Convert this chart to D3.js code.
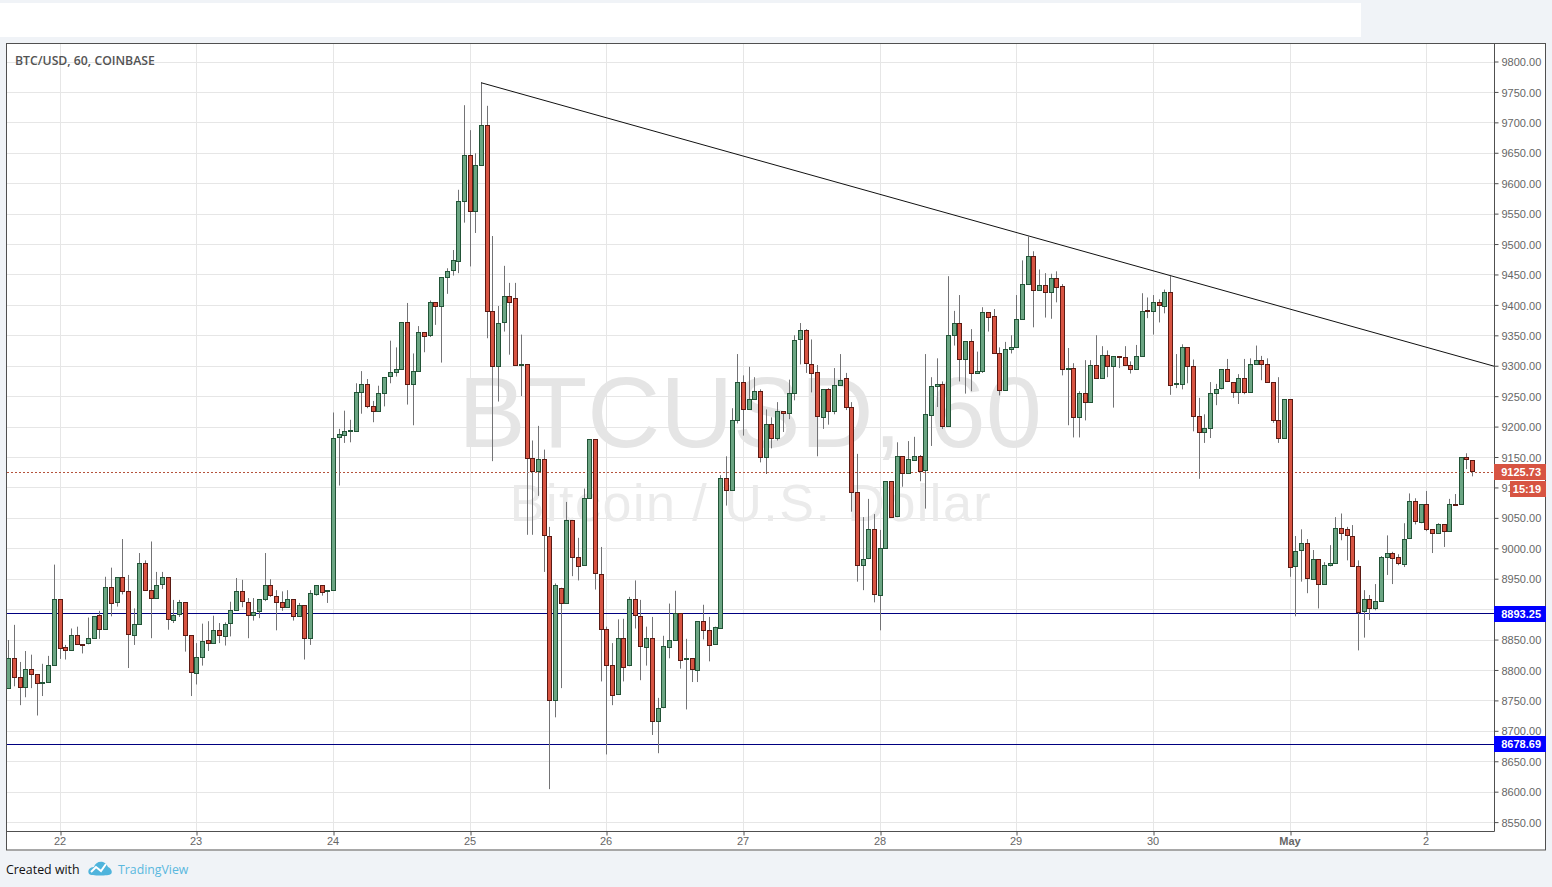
<!DOCTYPE html>
<html><head><meta charset="utf-8">
<script src="https://cdn.jsdelivr.net/npm/d3@7/dist/d3.min.js"></script>
<style>html,body{margin:0;padding:0;background:#f0f3f7;overflow:hidden}svg{display:block}</style>
</head><body><div id="c"></div>
<script>
const opens=[8770,8820,8789,8773,8802,8794,8780,8781,8809,8917,
8837,8832,8857,8843,8843,8852,8891,8868,8937,8911,
8952,8929,8858,8876,8976,8932,8919,8940,8952,8883,
8891,8911,8857,8796,8822,8850,8845,8866,8857,8876,
8898,8929,8912,8891,8896,8916,8939,8922,8912,8904,
8917,8889,8907,8852,8926,8940,8930,8932,9182,9187,
9193,9193,9257,9270,9234,9226,9256,9282,9289,9294,
9372,9270,9292,9356,9350,9404,9398,9446,9456,9473,
9571,9647,9555,9630,9696,9390,9300,9371,9414,9412,
9302,9303,9149,9127,9146,9021,8751,8935,8911,9047,
8986,8972,9082,9179,8958,8868,8809,8760,8852,8807,
8916,8889,8839,8853,8717,8738,8839,8850,8894,8817,
8819,8801,8881,8866,8842,8870,9116,9096,9211,9274,
9229,9246,9259,9151,9205,9182,9226,9223,9256,9343,
9358,9303,9289,9216,9262,9226,9269,9280,9233,9093,
8973,8983,9031,8924,9001,9111,9052,9151,9123,9146,
9152,9128,9220,9267,9270,9201,9351,9371,9312,9341,
9289,9292,9389,9381,9321,9261,9328,9331,9377,9435,
9481,9425,9433,9422,9445,9431,9295,9297,9216,9256,
9241,9302,9280,9318,9300,9316,9315,9302,9295,9316,
9391,9390,9404,9399,9422,9269,9271,9331,9300,9218,
9192,9198,9256,9262,9294,9274,9257,9280,9257,9303,
9310,9303,9274,9211,9182,9246,8972,8996,9008,8950,
8983,8942,8973,8976,9034,9031,9021,8971,8896,8916,
8902,8914,8986,8993,8985,8975,9016,9077,9044,9073,
9032,9026,9040,9029,9073,9072,9150,9145];
const closes=[8820,8789,8773,8802,8793,8779,8781,8809,8917,8837,
8832,8857,8842,8842,8852,8888,8868,8937,8911,8952,
8929,8858,8876,8976,8932,8919,8940,8952,8883,8891,
8911,8857,8796,8822,8848,8845,8866,8857,8876,8898,
8929,8912,8891,8896,8916,8939,8922,8912,8904,8917,
8889,8907,8852,8926,8940,8929,8932,9182,9187,9193,
9194,9257,9270,9234,9226,9256,9282,9289,9294,9372,
9270,9292,9356,9350,9404,9398,9446,9456,9473,9571,
9647,9555,9630,9696,9390,9300,9371,9414,9404,9302,
9303,9149,9127,9146,9021,8751,8940,8911,9047,8986,
8972,9082,9179,8958,8868,8809,8760,8852,8804,8916,
8889,8839,8853,8717,8738,8839,8850,8894,8817,8819,
8801,8881,8866,8842,8870,9116,9096,9211,9274,9229,
9246,9259,9151,9205,9182,9226,9223,9256,9343,9358,
9303,9289,9216,9262,9226,9269,9277,9233,9093,8973,
8983,9031,8924,9001,9111,9052,9151,9123,9146,9152,
9128,9220,9267,9270,9201,9351,9371,9312,9341,9289,
9292,9389,9381,9321,9261,9328,9331,9377,9435,9481,
9425,9433,9422,9445,9431,9295,9297,9216,9256,9241,
9302,9280,9318,9300,9316,9315,9302,9295,9316,9390,
9390,9404,9399,9422,9269,9271,9331,9300,9218,9192,
9198,9256,9262,9294,9274,9257,9280,9257,9303,9310,
9303,9274,9211,9182,9246,8970,8996,9008,8950,8983,
8942,8973,8976,9034,9026,9021,8971,8896,8916,8902,
8914,8986,8993,8985,8975,9016,9077,9044,9073,9032,
9026,9040,9029,9073,9072,9150,9146,9127];
const highs=[8850,8875,8814,8832,8826,8794,8811,8824,8974,8917,
8842,8869,8872,8843,8887,8889,8898,8954,8969,8952,
9016,8957,8902,8993,8981,9012,8962,8962,8952,8916,
8916,8911,8857,8845,8877,8881,8890,8878,8879,8913,
8952,8949,8919,8919,8917,8993,8950,8932,8930,8932,
8917,8911,8907,8932,8940,8940,8932,9224,9197,9227,
9212,9272,9292,9279,9243,9268,9282,9342,9331,9372,
9404,9321,9366,9356,9408,9404,9446,9461,9491,9590,
9729,9688,9650,9766,9728,9514,9399,9465,9437,9437,
9352,9303,9178,9202,9163,9036,8943,8936,9077,9047,
9018,9099,9179,9179,9003,8872,8845,8884,8885,8921,
8948,8916,8872,8888,8755,8857,8910,8931,8894,8852,
8819,8881,8908,8888,8872,9121,9152,9231,9320,9285,
9299,9282,9262,9229,9216,9241,9226,9278,9351,9371,
9361,9344,9302,9262,9264,9297,9320,9289,9241,9156,
9052,9082,9057,9031,9111,9111,9175,9151,9177,9184,
9154,9320,9282,9313,9275,9448,9391,9417,9341,9361,
9324,9397,9389,9394,9331,9340,9351,9417,9474,9513,
9489,9459,9453,9452,9456,9435,9330,9305,9259,9310,
9310,9351,9333,9326,9316,9316,9333,9308,9335,9420,
9413,9417,9410,9426,9448,9320,9336,9331,9311,9248,
9221,9274,9271,9295,9312,9274,9287,9312,9313,9334,
9317,9313,9274,9282,9246,9246,9021,9032,9016,8998,
8983,8978,9006,9052,9058,9036,9039,8981,8932,8924,
8942,8988,9022,8995,8991,9042,9091,9083,9073,9095,
9032,9042,9040,9082,9090,9150,9157,9145];
const lows=[8770,8774,8743,8756,8771,8726,8758,8781,8809,8819,
8818,8832,8842,8828,8843,8852,8852,8868,8889,8905,
8925,8804,8842,8876,8932,8853,8919,8934,8867,8878,
8888,8831,8758,8777,8808,8832,8845,8845,8841,8856,
8898,8904,8853,8882,8886,8914,8921,8866,8898,8904,
8882,8889,8818,8842,8923,8923,8911,8932,9104,9174,
9175,9193,9222,9231,9208,9226,9234,9272,9283,9294,
9237,9203,9292,9323,9348,9368,9306,9419,9449,9453,
9536,9464,9519,9630,9346,9144,9242,9357,9319,9302,
9251,9023,9023,9087,8962,8605,8723,8771,8911,8955,
8948,8972,9082,8933,8782,8662,8743,8760,8782,8807,
8869,8784,8808,8694,8664,8738,8820,8850,8803,8736,
8781,8781,8851,8815,8842,8870,9071,9096,9206,9186,
9229,9246,9142,9123,9165,9178,9192,9213,9244,9303,
9289,9257,9152,9197,9204,9221,9269,9228,9061,8946,
8932,8983,8912,8866,9001,9052,9052,9102,9123,9146,
9111,9066,9169,9233,9197,9201,9334,9275,9255,9259,
9289,9289,9357,9321,9252,9261,9321,9331,9377,9435,
9364,9425,9380,9378,9405,9285,9203,9183,9183,9211,
9241,9279,9279,9282,9232,9297,9302,9288,9295,9316,
9379,9352,9372,9387,9253,9264,9262,9272,9193,9115,
9174,9182,9236,9262,9274,9248,9238,9254,9257,9303,
9277,9274,9207,9174,9182,8954,8889,8946,8927,8950,
8902,8942,8971,8976,9014,8981,8971,8833,8854,8883,
8899,8914,8957,8942,8973,8970,9016,9040,9042,9029,
8993,9026,9003,9029,9072,9072,9131,9119];
const dayTickIndex=[9,33,57,81,105,129,153,177,201,225,249];
const dayTickLabels=["22","23","24","25","26","27","28","29","30","May","2"];
const priceTicks=[8550,8600,8650,8700,8750,8800,8850,8900,8950,9000,9050,9100,9150,9200,9250,9300,9350,9400,9450,9500,9550,9600,9650,9700,9750,9800];
const hiddenPriceLabels=[8900];
const levelLines=[8893.25,8678.69];
const lastPrice=9125.73;
const countdown="15:19";
const trendIndex=[83,260.9];
const trendPrice=[9766,9300];

const W=1552,H=887;
const plotLeft=7,plotRight=1494,plotTop=44,plotBottom=831,boxRight=1546,boxBottom=851;
const svg=d3.select("#c").append("svg").attr("width",W).attr("height",H);
const defs=svg.append("defs");
defs.append("clipPath").attr("id","plot").append("rect").attr("x",plotLeft).attr("y",plotTop).attr("width",plotRight-plotLeft).attr("height",plotBottom-plotTop);

const x=d3.scaleLinear().domain([0,257]).range([8.3,1472]);
const y=d3.scaleLinear().domain([8550,9800]).range([822.6,62]);
const px=v=>Math.round(v)+.5;
const cx=i=>Math.round(x(i));

svg.append("rect").attr("x",0).attr("y",3).attr("width",1361).attr("height",34).attr("fill","#fff");
svg.append("rect").attr("x",6).attr("y",43).attr("width",boxRight-6).attr("height",boxBottom-43).attr("fill","#fff");

// grid
const grid=svg.append("g").attr("stroke","#e6e6e6").attr("stroke-width",1);
grid.selectAll(".h").data(priceTicks).join("line").attr("x1",plotLeft).attr("x2",plotRight).attr("y1",d=>px(y(d)-.5)).attr("y2",d=>px(y(d)-.5));
grid.selectAll(".v").data(dayTickIndex).join("line").attr("y1",plotTop).attr("y2",plotBottom).attr("x1",d=>cx(d)+.5).attr("x2",d=>cx(d)+.5);

// watermark
const wm=svg.append("g").attr("font-family","'Liberation Sans',Arial,sans-serif").attr("text-anchor","middle").attr("fill","#e5e5e5");
wm.append("text").attr("x",750).attr("y",447).attr("font-size",101).text("BTCUSD, 60");
wm.append("text").attr("x",751).attr("y",521).attr("font-size",52).attr("letter-spacing",1.5).attr("fill","#ebebeb").text("Bitcoin / U.S. Dollar");

const plot=svg.append("g").attr("clip-path","url(#plot)");
// level lines
plot.selectAll(".lvl").data(levelLines).join("line").attr("x1",plotLeft).attr("x2",plotRight).attr("y1",d=>px(y(d)-.5)).attr("y2",d=>px(y(d)-.5)).attr("stroke","#000080").attr("stroke-width",1);
plot.append("line").attr("x1",plotLeft).attr("x2",plotRight).attr("y1",px(y(lastPrice)-.5)).attr("y2",px(y(lastPrice)-.5)).attr("stroke","#b5533c").attr("stroke-dasharray","2,2");

// candles
const data=opens.map((o,i)=>({i,o,c:closes[i],h:highs[i],l:lows[i]}));
plot.selectAll(".w").data(data).join("line").attr("x1",d=>cx(d.i)+.5).attr("x2",d=>cx(d.i)+.5).attr("y1",d=>y(d.h)).attr("y2",d=>y(d.l)).attr("stroke","#737375").attr("stroke-width",1);
plot.selectAll(".b").data(data).join("rect")
 .attr("x",d=>cx(d.i)-1.5).attr("width",4)
 .attr("y",d=>px(y(Math.max(d.o,d.c))-.5))
 .attr("height",d=>Math.max(1,Math.round(Math.abs(y(d.o)-y(d.c)))))
 .attr("fill",d=>d.c>=d.o?"#6ba583":"#d75442")
 .attr("stroke",d=>d.c>=d.o?"#225437":"#5b1a13").attr("stroke-width",1);

// trend line
const trend=trendIndex.map((t,i)=>[x(t),y(trendPrice[i])]);
plot.append("path").attr("d",d3.line()(trend)).attr("fill","none").attr("stroke","#111").attr("stroke-width",1);

// box frame
const frame=svg.append("g").attr("stroke","#505050").attr("stroke-width",1).attr("fill","none");
frame.append("rect").attr("x",6.5).attr("y",43.5).attr("width",boxRight-7).attr("height",boxBottom-44-.5);
frame.append("line").attr("x1",plotRight+.5).attr("x2",plotRight+.5).attr("y1",43).attr("y2",plotBottom+.5);
frame.append("line").attr("x1",6).attr("x2",plotRight+.5).attr("y1",plotBottom+.5).attr("y2",plotBottom+.5);

// axes
const axisY=d3.axisRight(y).tickValues(priceTicks).tickSize(4).tickPadding(3).tickFormat(d=>hiddenPriceLabels.includes(d)?"":d3.format(".2f")(d));
const gy=svg.append("g").attr("transform",`translate(${plotRight+.5},-0.5)`).call(axisY);
gy.select(".domain").remove();
gy.selectAll("line").attr("stroke","#505050");
gy.selectAll("text").attr("font-family","'Liberation Sans',Arial,sans-serif").attr("font-size",11).attr("fill","#666").attr("y",0.6);

const axisX=d3.axisBottom(d3.scaleOrdinal().domain(dayTickIndex).range(dayTickIndex.map(cx))).tickSize(4).tickPadding(2).tickFormat((d,i)=>dayTickLabels[i]);
const gx=svg.append("g").attr("transform",`translate(.5,${plotBottom+.5})`).call(axisX);
gx.select(".domain").remove();
gx.selectAll("line").attr("stroke","#505050");
gx.selectAll("text").attr("dx",-1).attr("font-family","'Liberation Sans',Arial,sans-serif").attr("font-size",11).attr("fill","#666").attr("font-weight",(d,i)=>dayTickLabels[i]==="May"?"bold":"normal");

// price labels
function tag(x0,cy,w,txt,fill){
 svg.append("rect").attr("x",x0).attr("y",Math.round(cy)-8).attr("width",w).attr("height",16).attr("fill",fill);
 svg.append("text").attr("x",x0+w-5).attr("y",Math.round(cy)+4).attr("text-anchor","end").attr("font-family","'Liberation Sans',Arial,sans-serif").attr("font-size",11).attr("font-weight","bold").attr("fill","#fff").text(txt);
}
levelLines.forEach(v=>tag(plotRight,y(v),boxRight-plotRight,v.toFixed(2),"#0000ff"));
tag(plotRight,y(lastPrice),boxRight-plotRight,lastPrice.toFixed(2),"#d75442");
tag(1510,y(lastPrice)+17,boxRight-1510,countdown,"#d75442");

// title
svg.append("text").attr("x",15).attr("y",65).attr("font-family","'Open Sans',sans-serif").attr("font-weight",600).attr("font-size",12.25).attr("fill","#535353").text("BTC/USD, 60, COINBASE");

// footer
svg.append("text").attr("x",6).attr("y",874).attr("font-family","'Open Sans',sans-serif").attr("font-size",12.4).attr("fill","#111").text("Created with");
const logo=svg.append("g").attr("transform","translate(88,861)");
logo.append("path").attr("d","M1,13 C-1,9 2,6 6,6 C7,2 11,0 15,1 C18,2 19,4 20,6 C23,7 25,11 23,13 C21,15 3,15 1,13 Z").attr("fill","#4fb4dc");
logo.append("path").attr("d","M3,11 L8,6 L13,10 L18,3").attr("fill","none").attr("stroke","#fff").attr("stroke-width",2);
svg.append("text").attr("x",118).attr("y",874).attr("font-family","'Open Sans',sans-serif").attr("font-size",12.3).attr("fill","#5ab8de").text("TradingView");
</script></body></html>
